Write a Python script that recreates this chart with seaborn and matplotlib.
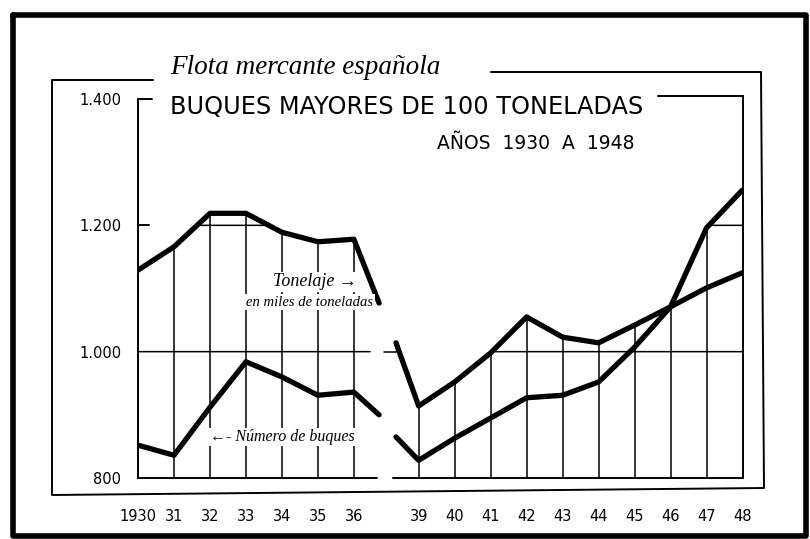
import numpy as np
import pandas as pd
import matplotlib
matplotlib.use('Agg')
import matplotlib.pyplot as plt
import seaborn as sns

# Flota mercante española, buques mayores de 100 toneladas
years_a = [1930, 1931, 1932, 1933, 1934, 1935, 1936]
years_b = [1939, 1940, 1941, 1942, 1943, 1944, 1945, 1946, 1947, 1948]
tick_labels = ['1930', '31', '32', '33', '34', '35', '36',
               '39', '40', '41', '42', '43', '44', '45', '46', '47', '48']

tonelaje_a = [1129, 1166, 1219, 1219, 1189, 1174, 1178]
tonelaje_b = [914, 952, 998, 1055, 1023, 1014, 1042, 1071, 1101, 1125]
buques_a = [852, 836, 912, 984, 960, 931, 936]
buques_b = [828, 863, 895, 927, 931, 952, 1007, 1071, 1196, 1256]

# where the strokes stop either side of the 1937-38 gap
tonelaje_cut = [1077, 1014]
buques_cut = [900, 865]

y_ticks = [800, 1000, 1200, 1400]
y_labels = ['800', '1.000', '1.200', '1.400']

W, H = 810, 539
GAP = 7.8            # x position of 1939 (1930 = 0)
CUT_L, CUT_R = 6.7, GAP - 0.63

pos_a = np.array(years_a) - years_a[0]
pos_b = np.array(years_b) - years_b[0] + GAP
xmax = pos_b[-1]

rows = []
for name, va, vb, cut in [('tonelaje', tonelaje_a, tonelaje_b, tonelaje_cut),
                          ('buques', buques_a, buques_b, buques_cut)]:
    for p, v in zip(list(pos_a) + [CUT_L], va + [cut[0]]):
        rows.append((name + '_a', p, v))
    for p, v in zip([CUT_R] + list(pos_b), [cut[1]] + vb):
        rows.append((name + '_b', p, v))
df = pd.DataFrame(rows, columns=['tramo', 'pos', 'valor'])

sns.set_theme(style='white')
plt.rcParams['font.family'] = ['DejaVu Sans']
plt.rcParams['text.color'] = 'black'
plt.rcParams['xtick.color'] = 'black'
plt.rcParams['ytick.color'] = 'black'

fig = plt.figure(figsize=(W / 100, H / 100), dpi=100)
fig.patch.set_facecolor('white')

def px(x, y):
    return x / W, 1 - y / H

# frame drawn in pixel space
frame = fig.add_axes([0, 0, 1, 1], zorder=0)
frame.set_xlim(0, W)
frame.set_ylim(H, 0)
frame.axis('off')
frame.plot([13, 806, 806, 13, 13], [15, 15, 536, 536, 15], color='black', lw=4)
frame.plot([153, 52, 52, 764, 761, 491], [80, 80, 495, 488, 72, 72],
           color='black', lw=1.4)

l, b = px(138, 478)
r, t = px(742.5, 99)
ax = fig.add_axes([l, b, r - l, t - b], zorder=1)
ax.set_facecolor('none')
ax.set_xlim(0, xmax)
ax.set_ylim(800, 1400)
for s in ax.spines.values():
    s.set_visible(False)

# grid, only beneath the upper curve
gkw = dict(color='black', lw=1.1, zorder=1, clip_on=False)
for block in ['a', 'b']:
    seg = [df[df.tramo == n + '_' + block] for n in ('tonelaje', 'buques')]
    xd = np.linspace(seg[0].pos.min(), seg[0].pos.max(), 2000)
    env = np.maximum(np.interp(xd, seg[0].pos, seg[0].valor),
                     np.interp(xd, seg[1].pos, seg[1].valor))
    if block == 'a':
        xd, env = xd[xd <= 6.45], env[xd <= 6.45]
    for level in (1000, 1200):
        ax.plot(xd, np.where(env >= level, level, np.nan), **gkw)
    for p in (pos_a if block == 'a' else pos_b):
        if p in (0, xmax):
            continue
        ax.plot([p, p], [800, np.interp(p, xd, env)], **gkw)

# axis lines and brackets
akw = dict(color='black', lw=1.4, zorder=1, clip_on=False)
ax.plot([0, 0], [800, 1400], **akw)
ax.plot([0, 0.4], [1400, 1400], **akw)
ax.plot([0, 0.3], [1200, 1200], **akw)
ax.plot([xmax, xmax], [800, 1405], **akw)
ax.plot([14.45, xmax], [1405, 1405], **akw)
ax.plot([0, 6.65], [800, 800], **akw)
ax.plot([7.1, xmax], [800, 800], **akw)
ax.plot([6.85, CUT_R], [1000, 1000], **gkw)

sns.lineplot(data=df, x='pos', y='valor', units='tramo', estimator=None,
             sort=False, color='black', lw=3.8, ax=ax, zorder=3,
             solid_joinstyle='round', solid_capstyle='round', legend=False)

ax.set_xticks(list(pos_a) + list(pos_b))
ax.set_xticklabels(tick_labels, fontsize=10.5)
ax.set_yticks(y_ticks)
ax.set_yticklabels(y_labels, fontsize=10.5)
ax.tick_params(axis='x', length=0, pad=22)
ax.tick_params(axis='y', length=0, pad=12)
ax.set_xlabel('')
ax.set_ylabel('')

# titles
serif = ['Liberation Serif', 'DejaVu Serif']
fig.text(*px(170, 68), 'Flota mercante española', family=serif,
         style='italic', fontsize=19.5, va='center', ha='left')
fig.text(*px(170, 107), 'BUQUES MAYORES DE 100 TONELADAS',
         fontsize=17.3, va='center', ha='left')
fig.text(*px(437, 143), 'AÑOS  1930  A  1948', fontsize=13.5,
         va='center', ha='left')

# notes on the lines
bb = dict(facecolor='white', edgecolor='none', pad=1)
fig.text(*px(315, 282), 'Tonelaje →', family=serif, style='italic',
         fontsize=13, ha='center', va='center', bbox=bb, zorder=2)
fig.text(*px(310, 302), 'en miles de toneladas', family=serif,
         style='italic', fontsize=10.5, ha='center', va='center', bbox=bb,
         zorder=2)
fig.text(*px(282, 437), '←- Número de buques', family=serif,
         style='italic', fontsize=11.5, ha='center', va='center', bbox=bb,
         zorder=2)

fig.savefig('out.png', dpi=100)
